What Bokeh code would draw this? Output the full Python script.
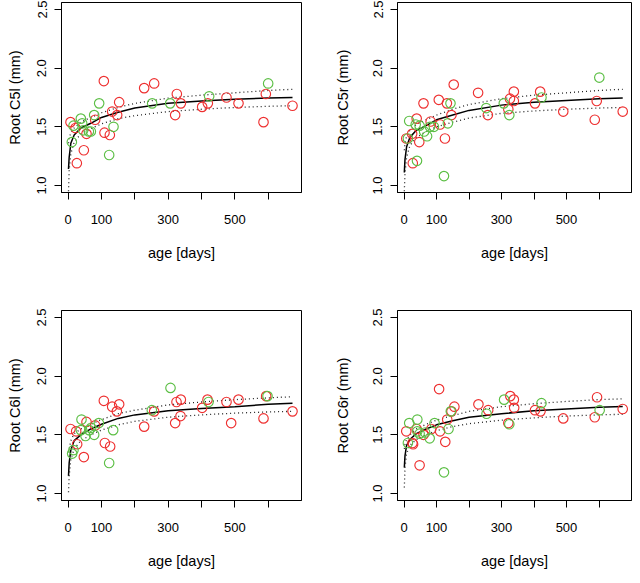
from bokeh.plotting import figure
from bokeh.layouts import column, row
from bokeh.models import Range1d, FixedTicker
from bokeh.embed import file_html
from bokeh.resources import INLINE

# ---------------- data ----------------
titles = ["Root C5l (mm)", "Root C5r (mm)", "Root C6l (mm)", "Root C6r (mm)"]
x_label = "age [days]"
x_ticks = [0, 100, 200, 300, 400, 500, 600]
x_tick_labels = ["0", "100", "", "300", "", "500", ""]
y_ticks = [1.0, 1.5, 2.0, 2.5]
y_tick_labels = ["1.0", "1.5", "2.0", "2.5"]

red_x1 = [7, 22, 26, 47, 55, 81, 107, 109, 125, 132, 147, 153, 228, 258, 321, 326, 338, 402, 419, 475, 511, 586, 593, 673]
red_y1 = [1.54, 1.49, 1.19, 1.30, 1.44, 1.56, 1.89, 1.45, 1.43, 1.63, 1.60, 1.71, 1.83, 1.87, 1.60, 1.78, 1.70, 1.67, 1.70, 1.75, 1.70, 1.54, 1.78, 1.68]
green_x1 = [11, 16, 38, 42, 45, 62, 68, 78, 93, 123, 136, 252, 306, 423, 600]
green_y1 = [1.37, 1.51, 1.57, 1.53, 1.47, 1.46, 1.46, 1.60, 1.70, 1.26, 1.50, 1.70, 1.70, 1.76, 1.87]

red_x2 = [7, 25, 27, 39, 47, 60, 82, 107, 111, 126, 132, 146, 153, 228, 258, 321, 326, 338, 338, 403, 419, 490, 587, 593, 673]
red_y2 = [1.40, 1.44, 1.19, 1.57, 1.37, 1.70, 1.545, 1.73, 1.52, 1.40, 1.70, 1.60, 1.86, 1.79, 1.60, 1.65, 1.74, 1.80, 1.72, 1.70, 1.80, 1.63, 1.56, 1.72, 1.63]
green_x2 = [12, 16, 36, 40, 48, 62, 71, 80, 92, 123, 135, 143, 253, 307, 324, 423, 601]
green_y2 = [1.40, 1.55, 1.52, 1.21, 1.51, 1.46, 1.42, 1.50, 1.50, 1.08, 1.53, 1.70, 1.66, 1.70, 1.60, 1.75, 1.92]

red_x3 = [7, 24, 27, 47, 55, 81, 107, 110, 126, 132, 146, 153, 228, 258, 321, 325, 338, 337, 402, 418, 475, 489, 511, 586, 594, 673]
red_y3 = [1.55, 1.53, 1.42, 1.31, 1.61, 1.58, 1.79, 1.43, 1.40, 1.74, 1.70, 1.76, 1.57, 1.70, 1.60, 1.78, 1.80, 1.66, 1.73, 1.80, 1.78, 1.60, 1.80, 1.64, 1.83, 1.70]
green_x3 = [12, 16, 38, 40, 52, 63, 69, 78, 92, 123, 135, 251, 307, 421, 598]
green_y3 = [1.34, 1.37, 1.54, 1.63, 1.49, 1.54, 1.56, 1.50, 1.60, 1.26, 1.54, 1.71, 1.90, 1.78, 1.83]

red_x4 = [7, 26, 28, 39, 48, 60, 84, 108, 111, 127, 133, 146, 155, 229, 259, 321, 327, 338, 339, 403, 420, 490, 587, 594, 673]
red_y4 = [1.53, 1.43, 1.42, 1.55, 1.24, 1.50, 1.55, 1.89, 1.53, 1.44, 1.63, 1.70, 1.74, 1.76, 1.71, 1.60, 1.83, 1.80, 1.73, 1.71, 1.70, 1.64, 1.65, 1.82, 1.72]
green_x4 = [12, 16, 41, 41, 48, 65, 79, 94, 123, 137, 144, 254, 308, 324, 423, 602]
green_y4 = [1.43, 1.60, 1.63, 1.53, 1.51, 1.52, 1.47, 1.60, 1.18, 1.55, 1.70, 1.68, 1.80, 1.59, 1.77, 1.71]

# fitted curve and confidence band
curve_days = [1, 3, 8, 18, 38, 68, 100, 150, 200, 300, 400, 500, 600, 673]
fit1 = [1.14, 1.24, 1.36, 1.43, 1.49, 1.53, 1.58, 1.625, 1.66, 1.70, 1.72, 1.735, 1.745, 1.75]
low1 = [0.95, 1.13, 1.27, 1.37, 1.44, 1.485, 1.525, 1.57, 1.595, 1.63, 1.65, 1.665, 1.675, 1.68]
upp1 = [1.36, 1.40, 1.45, 1.49, 1.54, 1.58, 1.62, 1.665, 1.70, 1.745, 1.77, 1.79, 1.81, 1.82]
fit2 = [1.11, 1.22, 1.33, 1.41, 1.47, 1.51, 1.56, 1.60, 1.64, 1.685, 1.71, 1.725, 1.74, 1.745]
low2 = [0.95, 1.10, 1.24, 1.34, 1.41, 1.46, 1.50, 1.54, 1.575, 1.615, 1.635, 1.65, 1.66, 1.665]
upp2 = [1.30, 1.36, 1.42, 1.47, 1.52, 1.56, 1.60, 1.65, 1.69, 1.74, 1.77, 1.79, 1.81, 1.82]
fit3 = [1.15, 1.26, 1.37, 1.45, 1.50, 1.55, 1.59, 1.64, 1.67, 1.705, 1.725, 1.74, 1.76, 1.77]
low3 = [1.01, 1.15, 1.29, 1.38, 1.45, 1.50, 1.54, 1.585, 1.615, 1.65, 1.67, 1.685, 1.695, 1.70]
upp3 = [1.35, 1.38, 1.45, 1.51, 1.55, 1.59, 1.63, 1.68, 1.71, 1.755, 1.78, 1.80, 1.815, 1.825]
fit4 = [1.22, 1.32, 1.41, 1.46, 1.51, 1.55, 1.585, 1.62, 1.65, 1.68, 1.705, 1.72, 1.735, 1.742]
low4 = [1.05, 1.22, 1.34, 1.41, 1.46, 1.50, 1.535, 1.57, 1.595, 1.625, 1.645, 1.66, 1.67, 1.675]
upp4 = [1.38, 1.42, 1.46, 1.50, 1.55, 1.59, 1.625, 1.665, 1.70, 1.74, 1.765, 1.785, 1.80, 1.807]

panels = [
    (red_x1, red_y1, green_x1, green_y1, fit1, low1, upp1),
    (red_x2, red_y2, green_x2, green_y2, fit2, low2, upp2),
    (red_x3, red_y3, green_x3, green_y3, fit3, low3, upp3),
    (red_x4, red_y4, green_x4, green_y4, fit4, low4, upp4),
]

RED = "#EE3030"
GREEN = "#5CBF45"
FONT = "Liberation Sans"


def make_panel(i):
    rx, ry, gx, gy, fit, low, upp = panels[i]
    left_col = (i % 2 == 0)
    top_row = (i < 2)
    if left_col:
        width, mbl, frame_w = 320, 61, 240
    else:
        width, mbl, frame_w = 312, 77, 234
    mbr = width - mbl - frame_w
    frame_h = 190
    if top_row:
        height, mbt = 300, 2
    else:
        height, mbt = 275, 10
    mbb = height - mbt - frame_h

    p = figure(width=width, height=height, output_backend="svg",
               toolbar_location=None, tools="",
               x_range=Range1d(-20, 700), y_range=Range1d(0.94, 2.56),
               min_border_left=mbl, min_border_right=mbr,
               min_border_top=mbt, min_border_bottom=mbb)
    p.background_fill_color = "white"
    p.border_fill_color = "white"
    p.outline_line_color = "black"
    p.outline_line_width = 1
    p.grid.visible = False

    # curves
    p.line(curve_days, fit, line_color="black", line_width=1.5)
    p.line(curve_days, low, line_color="#222222", line_width=1.3, line_dash="1 3")
    p.line(curve_days, upp, line_color="#222222", line_width=1.3, line_dash="1 3")

    # points
    p.scatter(rx, ry, marker="circle", size=9.5, fill_color=None,
              line_color=RED, line_width=1.15)
    p.scatter(gx, gy, marker="circle", size=9.5, fill_color=None,
              line_color=GREEN, line_width=1.15)

    xa = p.xaxis[0]
    xa.ticker = FixedTicker(ticks=x_ticks)
    xa.major_label_overrides = {t: l for t, l in zip(x_ticks, x_tick_labels)}
    xa.axis_label = x_label
    xa.major_label_standoff = 15
    xa.axis_label_standoff = 18

    ya = p.yaxis[0]
    ya.ticker = FixedTicker(ticks=y_ticks)
    ya.major_label_overrides = {t: l for t, l in zip(y_ticks, y_tick_labels)}
    ya.axis_label = titles[i]
    ya.major_label_orientation = "vertical"
    ya.major_label_standoff = 8
    ya.axis_label_standoff = 12 if left_col else 20

    for ax in (xa, ya):
        ax.minor_tick_line_color = None
        ax.major_tick_in = 0
        ax.major_tick_out = 7
        ax.major_tick_line_color = "black"
        ax.axis_line_color = "black"
        ax.major_label_text_font = FONT
        ax.major_label_text_font_size = "13px"
        ax.major_label_text_color = "black"
        ax.axis_label_text_font = FONT
        ax.axis_label_text_font_size = "14.5px"
        ax.axis_label_text_font_style = "normal"
        ax.axis_label_text_color = "black"
    return p


figs = [make_panel(i) for i in range(4)]
layout = column(row(figs[0], figs[1]), row(figs[2], figs[3]))

open("out.html", "w").write(file_html(layout, INLINE))
